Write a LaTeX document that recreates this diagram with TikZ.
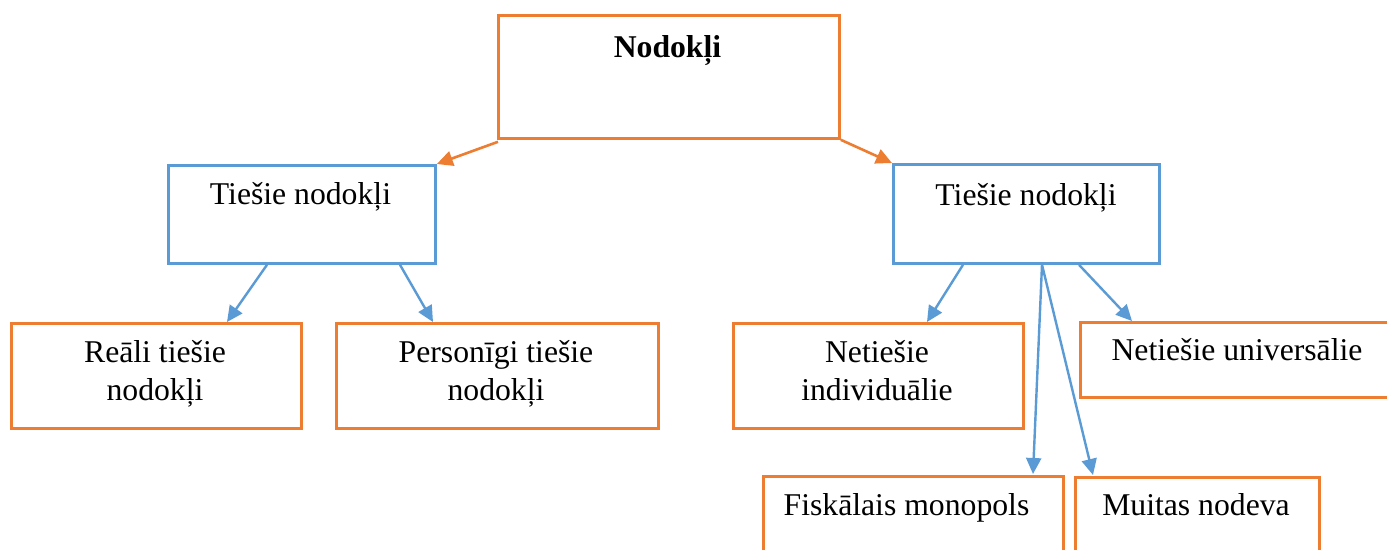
\documentclass[tikz,border=0pt]{standalone}
\usepackage{fontspec}
\setmainfont{Liberation Serif}
\usetikzlibrary{arrows.meta}
\definecolor{ofc}{HTML}{ED7D31}
\definecolor{bfc}{HTML}{5B9BD5}
\tikzset{
  obox/.style={draw=ofc, line width=2.8pt, rectangle, inner sep=0pt, anchor=north west},
  bbox/.style={draw=bfc, line width=2.8pt, rectangle, inner sep=0pt, anchor=north west},
  lbl/.style={anchor=base, inner sep=0pt, align=center, font=\fontsize{31.7}{38}\selectfont},
  oarrow/.style={draw=ofc, line width=2.6pt, -{Triangle[length=16pt,width=15pt]}},
  barrow/.style={draw=bfc, line width=2.4pt, -{Triangle[length=16pt,width=15pt]}},
}
\begin{document}
\begin{tikzpicture}[x=1pt,y=-1pt]
\clip (0,0) rectangle (1387,549);
\fill[white] (0,0) rectangle (1387,549);
% boxes
\node[obox, minimum width=341pt, minimum height=123pt] (top) at (497,14) {};
\node[bbox, minimum width=267pt, minimum height=98pt] (lmid) at (167,164) {};
\node[bbox, minimum width=266pt, minimum height=99pt] (rmid) at (892,163) {};
\node[obox, minimum width=290pt, minimum height=105pt] (reali) at (10,322) {};
\node[obox, minimum width=322pt, minimum height=105pt] (pers) at (335,322) {};
\node[obox, minimum width=290pt, minimum height=105pt] (nind) at (732,322) {};
\node[obox, minimum width=316pt, minimum height=75pt] (nuni) at (1079,321) {};
\node[obox, minimum width=300pt, minimum height=130pt] (fisk) at (762,475) {};
\node[obox, minimum width=244pt, minimum height=130pt] (muit) at (1074,476) {};
% texts (base anchor = baseline of the last line)
\node[lbl, font=\fontsize{31.7}{38}\selectfont\bfseries] (ttop) at (667.5,57) {Nodokļi};
\node[lbl] (tl) at (300.5,204) {Tiešie nodokļi};
\node[lbl] (tr) at (1026,205) {Tiešie nodokļi};
\node[lbl] (treali) at (155,400) {Reāli tiešie\\nodokļi};
\node[lbl] (tpers) at (496,400) {Personīgi tiešie\\nodokļi};
\node[lbl] (tnind) at (877,400) {Netiešie\\individuālie};
\node[lbl] (tnuni) at (1237,360) {Netiešie universālie};
\node[lbl] (tfisk) at (906.5,515) {Fiskālais monopols};
\node[lbl] (tmuit) at (1196,515) {Muitas nodeva};
% connectors
\draw[oarrow] ([xshift=1pt,yshift=-2pt]top.south west) -- (lmid.north east);
\draw[oarrow] (top.south east) -- (rmid.north west);
\draw[barrow] ([xshift=100pt]lmid.south west) -- ([xshift=217pt]reali.north west);
\draw[barrow] ([xshift=233pt]lmid.south west) -- ([xshift=98pt]pers.north west);
\draw[barrow] ([xshift=71pt]rmid.south west) -- ([xshift=195pt]nind.north west);
\draw[barrow] ([xshift=187pt]rmid.south west) -- ([xshift=53pt]nuni.north west);
\draw[barrow] ([xshift=150pt]rmid.south west) -- ([xshift=271pt,yshift=1pt]fisk.north west);
\draw[barrow] ([xshift=150pt]rmid.south west) -- ([xshift=19pt,yshift=1pt]muit.north west);
\end{tikzpicture}
\end{document}
